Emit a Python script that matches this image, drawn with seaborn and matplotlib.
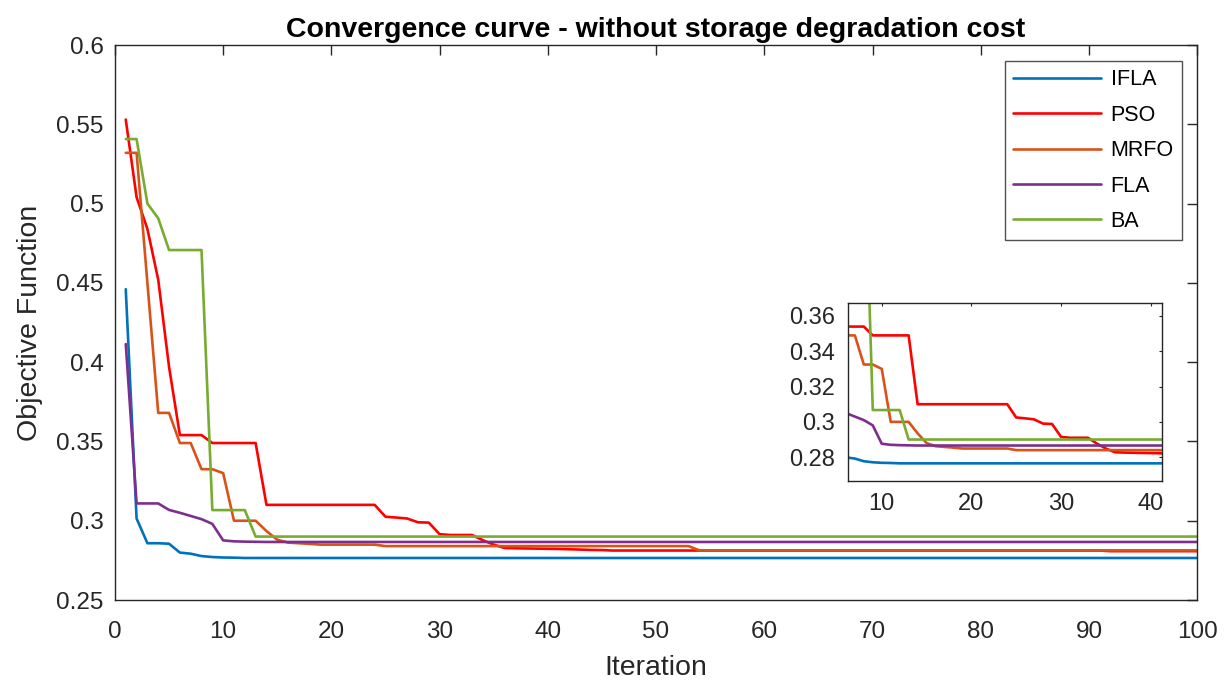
import matplotlib
matplotlib.use("Agg")
import matplotlib.pyplot as plt
import seaborn as sns
import pandas as pd
import numpy as np

# ---------------- data ----------------
iterations = list(range(1, 101))

ifla = ([0.446, 0.3014, 0.2858, 0.2858, 0.2855, 0.2799, 0.2792, 0.2777, 0.2771, 0.2768, 0.2767]
        + [0.2765] * 89)

pso = ([0.553, 0.504, 0.484, 0.452, 0.397, 0.354, 0.354, 0.354, 0.349, 0.349, 0.349, 0.349, 0.349,
        0.310, 0.310, 0.310, 0.310, 0.310, 0.310, 0.310, 0.310, 0.310, 0.310, 0.310,
        0.3025, 0.302, 0.3014, 0.299, 0.2988, 0.2915, 0.291, 0.291, 0.291, 0.2877, 0.2849,
        0.2828, 0.2826, 0.2825, 0.2824, 0.2823, 0.2822, 0.2820, 0.2818, 0.2816, 0.2815]
       + [0.2812] * 46 + [0.2808] * 9)

mrfo = ([0.532, 0.532, 0.450, 0.368, 0.368, 0.349, 0.349, 0.3325, 0.3325, 0.330, 0.300, 0.300,
         0.300, 0.2935, 0.2880, 0.2862, 0.2858, 0.2854, 0.2849, 0.2849, 0.2849, 0.2849, 0.2849,
         0.2849] + [0.2840] * 29 + [0.2813] * 47)

fla = ([0.4114, 0.3109, 0.3109, 0.3109, 0.3068, 0.3050, 0.3030, 0.3010, 0.2980, 0.2876, 0.2870,
        0.2868, 0.2867] + [0.2866] * 87)

ba = ([0.5407, 0.5407, 0.500, 0.4907, 0.4707, 0.4707, 0.4707, 0.4707, 0.3067, 0.3067, 0.3067,
       0.3067] + [0.2900] * 88)

series_names = ["IFLA", "PSO", "MRFO", "FLA", "BA"]
series_values = [ifla, pso, mrfo, fla, ba]
series_colors = ["#0072BD", "#FF0000", "#D95319", "#7E2F8E", "#77AC30"]

main_xticks = list(range(0, 101, 10))
main_yticks = [0.25, 0.30, 0.35, 0.40, 0.45, 0.50, 0.55, 0.60]
main_yticklabels = ["0.25", "0.3", "0.35", "0.4", "0.45", "0.5", "0.55", "0.6"]
inset_xticks = [10, 20, 30, 40]
inset_yticks = [0.28, 0.30, 0.32, 0.34, 0.36]
inset_yticklabels = ["0.28", "0.3", "0.32", "0.34", "0.36"]

title_text = "Convergence curve - without storage degradation cost"
xlabel_text = "Iteration"
ylabel_text = "Objective Function"

# ---------------- long-form table ----------------
frames = []
for name, vals in zip(series_names, series_values):
    frames.append(pd.DataFrame({"Iteration": iterations, "Value": vals, "Algorithm": name}))
df = pd.concat(frames, ignore_index=True)
palette = dict(zip(series_names, series_colors))

# ---------------- style ----------------
sns.set_style("white")
plt.rcParams["font.family"] = ["Liberation Sans", "DejaVu Sans"]
axis_col = "#262626"

fig = plt.figure(figsize=(12.28, 6.84), dpi=100)
ax = fig.add_axes([0.0936, 0.1228, 0.8813, 0.8114])

sns.lineplot(data=df, x="Iteration", y="Value", hue="Algorithm", hue_order=series_names,
             palette=palette, estimator=None, linewidth=1.9, ax=ax)

ax.set_xlim(0, 100)
ax.set_ylim(0.25, 0.6)
ax.set_xticks(main_xticks)
ax.set_xticklabels([str(t) for t in main_xticks])
ax.set_yticks(main_yticks)
ax.set_yticklabels(main_yticklabels)
ax.tick_params(axis="both", direction="in", length=7, width=1.0, labelsize=17.5,
               colors=axis_col, top=True, right=True)
ax.tick_params(axis="x", pad=15)
ax.tick_params(axis="y", pad=8)
for sp in ax.spines.values():
    sp.set_color(axis_col)
    sp.set_linewidth(1.0)
ax.set_xlabel(xlabel_text, fontsize=20.5, color=axis_col, labelpad=9)
ax.set_ylabel(ylabel_text, fontsize=20.5, color=axis_col, labelpad=10)
ax.set_title(title_text, fontsize=20.5, fontweight="bold", color="black", pad=6)

leg = ax.legend(loc="upper right", bbox_to_anchor=(0.986, 0.971), fontsize=15.5,
                frameon=True, fancybox=False, edgecolor=axis_col, handlelength=4.1,
                handletextpad=0.45, borderpad=0.38, labelspacing=0.67, borderaxespad=0)
leg.get_frame().set_linewidth(1.0)
for t in leg.get_texts():
    t.set_color("black")
for h in leg.get_lines():
    h.set_linewidth(1.9)

# ---------------- inset ----------------
axin = fig.add_axes([0.6903, 0.2968, 0.2562, 0.2598])
sns.lineplot(data=df, x="Iteration", y="Value", hue="Algorithm", hue_order=series_names,
             palette=palette, estimator=None, linewidth=1.9, ax=axin, legend=False)
axin.set_xlim(6.2, 41.3)
axin.set_ylim(0.2665, 0.3672)
axin.set_xticks(inset_xticks)
axin.set_xticklabels([str(t) for t in inset_xticks])
axin.set_yticks(inset_yticks)
axin.set_yticklabels(inset_yticklabels)
axin.tick_params(axis="both", direction="in", length=2.5, width=0.8, labelsize=17,
                 colors=axis_col, top=True, right=True)
axin.tick_params(axis="x", pad=9)
axin.tick_params(axis="y", pad=9)
axin.set_xlabel("")
axin.set_ylabel("")
for sp in axin.spines.values():
    sp.set_color(axis_col)
    sp.set_linewidth(1.0)

fig.savefig("out.png", dpi=100, facecolor="white")
